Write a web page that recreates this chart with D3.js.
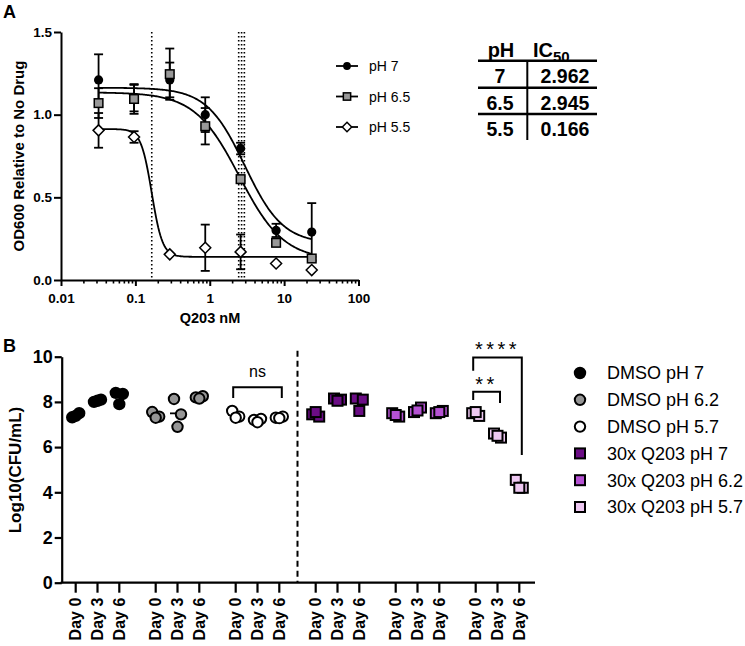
<!DOCTYPE html>
<html><head><meta charset="utf-8">
<script src="https://cdn.jsdelivr.net/npm/d3@7"></script>
<style>
body{margin:0;background:#fff;}
svg{display:block;font-family:"Liberation Sans",Arial,sans-serif;}
</style>
</head><body>
<svg id="c" width="745" height="646"></svg>
<script>
// ---------------- Panel A data ----------------
const doses = [0.032, 0.096, 0.29, 0.87, 2.6, 7.8, 23.5];
const seriesA = ["pH 7", "pH 6.5", "pH 5.5"];
const meanPH7  = [1.21, 1.10, 1.21, 1.00, 0.795, 0.30, 0.29];
const errPH7   = [0.155, 0.08, 0.105, 0.105, 0.035, 0.04, 0.175];
const meanPH65 = [1.07, 1.095, 1.245, 0.93, 0.61, 0.225, 0.13];
const errPH65  = [0.09, 0.09, 0.155, 0.11, 0.02, 0.02, 0.01];
const meanPH55 = [0.905, 0.865, 0.155, 0.195, 0.17, 0.10, 0.06];
const errPH55  = [0.105, 0.035, 0, 0.14, 0.105, 0, 0];
// fitted 4-parameter logistic curves (top, bottom, midpoint, hill slope)
const fitTop    = [1.163, 1.135, 0.913];
const fitBottom = [0.22, 0.12, 0.14];
const fitMid    = [2.96, 2.5, 0.166];
const fitHill   = [1.7, 1.45, 6];
const refLines  = [0.166, 2.45, 2.68, 2.92];
const xTicksA   = [0.01, 0.1, 1, 10, 100];
const yTicksA   = [0, 0.5, 1.0, 1.5];
const tableHead = ["pH", "IC"];
const tablePH   = ["7", "6.5", "5.5"];
const tableIC50 = ["2.962", "2.945", "0.166"];

// ---------------- Panel B data ----------------
const groupsB = ["DMSO pH 7", "DMSO pH 6.2", "DMSO pH 5.7", "30x Q203 pH 7", "30x Q203 pH 6.2", "30x Q203 pH 5.7"];
const daysB = ["Day 0", "Day 3", "Day 6"];
const dmso7    = [[7.32, 7.5, 7.38], [8.0, 8.1, 8.05], [8.4, 8.35, 7.9]];
const dmso62   = [[7.55, 7.35, 7.3], [8.13, 7.45, 6.9], [8.2, 8.25, 8.15]];
const dmso57   = [[7.6, 7.35, 7.3], [7.2, 7.25, 7.1], [7.3, 7.35, 7.28]];
const q203_7   = [[7.45, 7.35, 7.55], [8.15, 8.1, 8.05], [8.15, 8.1, 7.6]];
const q203_62  = [[7.5, 7.35, 7.42], [7.55, 7.75, 7.62], [7.5, 7.6, 7.55]];
const q203_57  = [[7.5, 7.38, 7.55], [6.6, 6.42, 6.5], [4.55, 4.2, 4.2]];
const yTicksB = [0, 2, 4, 6, 8, 10];
const sigLabels = ["ns", "**", "****"];
const sigGroup  = [2, 5, 5];
const sigFrom   = [0, 0, 0];
const sigTo     = [2, 1, 2];
const sigTop    = [8.65, 8.45, 9.97];
const sigLeftEnd  = [8.17, 8.08, 9.38];
const sigRightEnd = [8.17, 7.95, 5.65];

const svg = d3.select("#c");

// ================= PANEL A =================
const xA = d3.scaleLog().domain([0.01, 100]).range([61, 358.5]);
const yA = d3.scaleLinear().domain([0, 1.5]).range([280, 32]);
const gA = svg.append("g");

svg.append("text").attr("x", 3).attr("y", 18).attr("font-size", 18).attr("font-weight", "bold").text("A");

// reference dotted lines
gA.selectAll("line.ref").data(refLines).join("line")
  .attr("x1", d => xA(d)).attr("x2", d => xA(d))
  .attr("y1", yA(1.5)).attr("y2", yA(0))
  .attr("stroke", "#000").attr("stroke-width", 1.6).attr("stroke-dasharray", "1.6,2.4");

// axes
const minorA = [];
[0.01, 0.1, 1, 10].forEach(d => { for (let k = 2; k <= 9; k++) minorA.push(d * k); });
const axMinor = gA.append("g").attr("transform", "translate(0,280)")
  .call(d3.axisBottom(xA).tickValues(minorA).tickSize(3.5).tickFormat(""));
axMinor.select(".domain").remove();
axMinor.selectAll("line").attr("stroke-width", 1.6);
const axXA = gA.append("g").attr("transform", "translate(0,280)")
  .call(d3.axisBottom(xA).tickValues(xTicksA).tickSize(6).tickSizeOuter(0)
        .tickFormat(d => d < 1 ? String(d) : d3.format("d")(d)));
axXA.select(".domain").attr("stroke-width", 2);
axXA.selectAll("line").attr("stroke-width", 2);
axXA.selectAll("text").attr("font-size", 13.5).attr("font-weight", "bold").attr("font-family", "Liberation Sans, Arial, sans-serif").attr("dy", "1.05em");

const axYA = gA.append("g").attr("transform", "translate(61,0)")
  .call(d3.axisLeft(yA).tickValues(yTicksA).tickSize(7).tickSizeOuter(0).tickFormat(d3.format(".1f")));
axYA.select(".domain").attr("stroke-width", 2);
axYA.selectAll("line").attr("stroke-width", 2);
axYA.selectAll("text").attr("font-size", 13.5).attr("font-weight", "bold").attr("font-family", "Liberation Sans, Arial, sans-serif").attr("x", -9);

gA.append("text").attr("transform", "translate(18,156) rotate(-90)").attr("text-anchor", "middle")
  .attr("dominant-baseline", "central").attr("font-size", 15).attr("font-weight", "bold")
  .text("OD600 Relative to No Drug");
gA.append("text").attr("x", 210).attr("y", 323).attr("text-anchor", "middle")
  .attr("font-size", 14.5).attr("font-weight", "bold").text("Q203 nM");

// fitted curves
const curveX = d3.range(0, 201).map(i => Math.pow(10, Math.log10(doses[0]) + i / 200 * (Math.log10(doses[6]) - Math.log10(doses[0]))));
const line = d3.line().x(d => xA(d[0])).y(d => yA(d[1])).curve(d3.curveLinear);
seriesA.forEach((s, i) => {
  const pts = curveX.map(x => [x, fitBottom[i] + (fitTop[i] - fitBottom[i]) / (1 + Math.pow(x / fitMid[i], fitHill[i]))]);
  gA.append("path").attr("d", line(pts)).attr("fill", "none").attr("stroke", "#000").attr("stroke-width", 1.8);
});

const meansA = [meanPH7, meanPH65, meanPH55];
const errsA = [errPH7, errPH65, errPH55];
const fillA = ["#000", "#999", "#fff"];

function drawMarker(g, i, x, y, scale) {
  const sc = scale || 1;
  if (i === 2) {
    const r = 5.5 * sc;
    g.append("path").attr("d", `M${x},${y - r}L${x + r},${y}L${x},${y + r}L${x - r},${y}Z`)
      .attr("fill", fillA[i]).attr("stroke", "#000").attr("stroke-width", 1.5);
  } else if (i === 1) {
    const h = 4.3 * sc;
    g.append("rect").attr("x", x - h).attr("y", y - h).attr("width", 2 * h).attr("height", 2 * h)
      .attr("fill", fillA[i]).attr("stroke", "#000").attr("stroke-width", 1.5);
  } else {
    g.append("circle").attr("cx", x).attr("cy", y).attr("r", 4.6 * sc).attr("fill", fillA[i]);
  }
}

seriesA.forEach((s, i) => {
  const g = gA.append("g");
  doses.forEach((d, j) => {
    const m = meansA[i][j], e = errsA[i][j];
    if (e > 0) {
      const x = xA(d);
      g.append("line").attr("x1", x).attr("x2", x).attr("y1", yA(m + e)).attr("y2", yA(m - e)).attr("stroke", "#000").attr("stroke-width", 1.8);
      [m + e, m - e].forEach(v => g.append("line").attr("x1", x - 4.5).attr("x2", x + 4.5).attr("y1", yA(v)).attr("y2", yA(v)).attr("stroke", "#000").attr("stroke-width", 1.8));
    }
  });
  doses.forEach((d, j) => drawMarker(g, i, xA(d), yA(meansA[i][j])));
});

// legend A
const legYA = d3.scalePoint().domain(seriesA).range([66, 127]);
seriesA.forEach((s, i) => {
  const y = legYA(s);
  gA.append("line").attr("x1", 336).attr("x2", 358).attr("y1", y).attr("y2", y).attr("stroke", "#000").attr("stroke-width", 1.8);
  drawMarker(gA, i, 347, y, 0.85);
  gA.append("text").attr("x", 369).attr("y", y).attr("dy", "0.36em").attr("font-size", 14).text(s);
});

// IC50 table
const tb = svg.append("g");
tb.append("text").attr("x", 501).attr("y", 57).attr("text-anchor", "middle").attr("font-size", 20).attr("font-weight", "bold").text(tableHead[0]);
const ic = tb.append("text").attr("x", 533).attr("y", 57).attr("font-size", 20).attr("font-weight", "bold");
ic.append("tspan").text(tableHead[1]);
ic.append("tspan").attr("dy", 5).attr("font-size", 15).text("50");
const rowY = d3.scalePoint().domain(tablePH).range([83, 136]);
tablePH.forEach((p, i) => {
  tb.append("text").attr("x", 500).attr("y", rowY(p)).attr("text-anchor", "middle").attr("font-size", 19.5).attr("font-weight", "bold").text(p);
  tb.append("text").attr("x", 565).attr("y", rowY(p)).attr("text-anchor", "middle").attr("font-size", 19.5).attr("font-weight", "bold").text(tableIC50[i]);
});
[60.7, 87.7, 114].forEach(y => tb.append("line").attr("x1", 478).attr("x2", 597).attr("y1", y).attr("y2", y).attr("stroke", "#000").attr("stroke-width", 2.6));
tb.append("line").attr("x1", 527.3).attr("x2", 527.3).attr("y1", 60.7).attr("y2", 140).attr("stroke", "#000").attr("stroke-width", 2);

// ================= PANEL B =================
const gB = svg.append("g");
svg.append("text").attr("x", 3).attr("y", 352).attr("font-size", 18).attr("font-weight", "bold").text("B");

const xG = d3.scaleBand().domain(groupsB).range([57.5, 537.5]);
const xD = d3.scalePoint().domain(daysB).range([-21.8, 21.8]);
const yB = d3.scaleLinear().domain([0, 10]).range([582.7, 356.7]);
const xPos = (g, d) => xG(g) + xG.bandwidth() / 2 + xD(d);

// divider
gB.append("line").attr("x1", xG(groupsB[3])).attr("x2", xG(groupsB[3]))
  .attr("y1", yB(10) - 6).attr("y2", yB(0)).attr("stroke", "#000").attr("stroke-width", 2).attr("stroke-dasharray", "6,4");

// axes
const axYB = gB.append("g").attr("transform", "translate(61.7,0)")
  .call(d3.axisLeft(yB).tickValues(yTicksB).tickSize(7).tickSizeOuter(0));
axYB.select(".domain").attr("stroke-width", 2.2);
axYB.selectAll("line").attr("stroke-width", 2.2);
axYB.selectAll("text").attr("font-size", 18).attr("font-weight", "bold").attr("font-family", "Liberation Sans, Arial, sans-serif").attr("x", -9);

gB.append("line").attr("x1", 60.6).attr("x2", 535).attr("y1", yB(0)).attr("y2", yB(0)).attr("stroke", "#000").attr("stroke-width", 2.2);
groupsB.forEach(g => daysB.forEach(d => {
  const x = xPos(g, d);
  gB.append("line").attr("x1", x).attr("x2", x).attr("y1", yB(0)).attr("y2", yB(0) + 10).attr("stroke", "#000").attr("stroke-width", 2.2);
  gB.append("text").attr("transform", `translate(${x},${yB(0) + 15}) rotate(-90)`)
    .attr("text-anchor", "end").attr("dy", "0.36em").attr("font-size", 16).attr("font-weight", "bold").text(d);
}));

gB.append("text").attr("transform", "translate(15,470) rotate(-90)").attr("text-anchor", "middle")
  .attr("dominant-baseline", "central").attr("font-size", 17).attr("font-weight", "bold").text("Log10(CFU/mL)");

// points
const valuesB = [dmso7, dmso62, dmso57, q203_7, q203_62, q203_57];
const fillB = ["#000000", "#959595", "#ffffff", "#6b0d85", "#b552d3", "#eec8f2"];
const jit = [-3.5, 3.5, 0];
function drawB(g, gi, x, y) {
  if (gi < 3) {
    g.append("circle").attr("cx", x).attr("cy", y).attr("r", 5.2).attr("fill", fillB[gi]).attr("stroke", "#000").attr("stroke-width", 2);
  } else {
    g.append("rect").attr("x", x - 5).attr("y", y - 5).attr("width", 10).attr("height", 10)
      .attr("fill", fillB[gi]).attr("stroke", "#000").attr("stroke-width", 2);
  }
}
// mean lines (mostly hidden behind the points)
groupsB.forEach((g, gi) => daysB.forEach((d, di) => {
  const m = d3.mean(valuesB[gi][di]);
  const x = xPos(g, d);
  gB.append("line").attr("x1", x - 7.5).attr("x2", x + 7.5).attr("y1", yB(m)).attr("y2", yB(m)).attr("stroke", "#000").attr("stroke-width", 1.8);
}));
groupsB.forEach((g, gi) => daysB.forEach((d, di) => {
  valuesB[gi][di].forEach((v, k) => drawB(gB, gi, xPos(g, d) + jit[k], yB(v)));
}));

// significance brackets
sigLabels.forEach((lab, i) => {
  const g = groupsB[sigGroup[i]];
  const x1 = xPos(g, daysB[sigFrom[i]]) - 2.5, x2 = xPos(g, daysB[sigTo[i]]) + 2.5;
  const yt = yB(sigTop[i]);
  gB.append("path").attr("d", `M${x1},${yB(sigLeftEnd[i])}V${yt}H${x2}V${yB(sigRightEnd[i])}`)
    .attr("fill", "none").attr("stroke", "#000").attr("stroke-width", 2);
  if (lab === "ns") {
    gB.append("text").attr("x", (x1 + x2) / 2).attr("y", yt - 10).attr("text-anchor", "middle").attr("font-size", 16).text(lab);
  } else {
    gB.append("text").attr("x", (x1 + x2) / 2).attr("y", yt - 1).attr("text-anchor", "middle")
      .attr("font-size", 20).attr("letter-spacing", 3.5).text(lab);
  }
});

// legend B
const legYB = d3.scalePoint().domain(groupsB).range([373, 507]);
groupsB.forEach((g, gi) => {
  const y = legYB(g);
  drawB(svg, gi, 580, y);
  svg.append("text").attr("x", 607).attr("y", y).attr("dy", "0.36em").attr("font-size", 18).text(g);
});
</script>
</body></html>
